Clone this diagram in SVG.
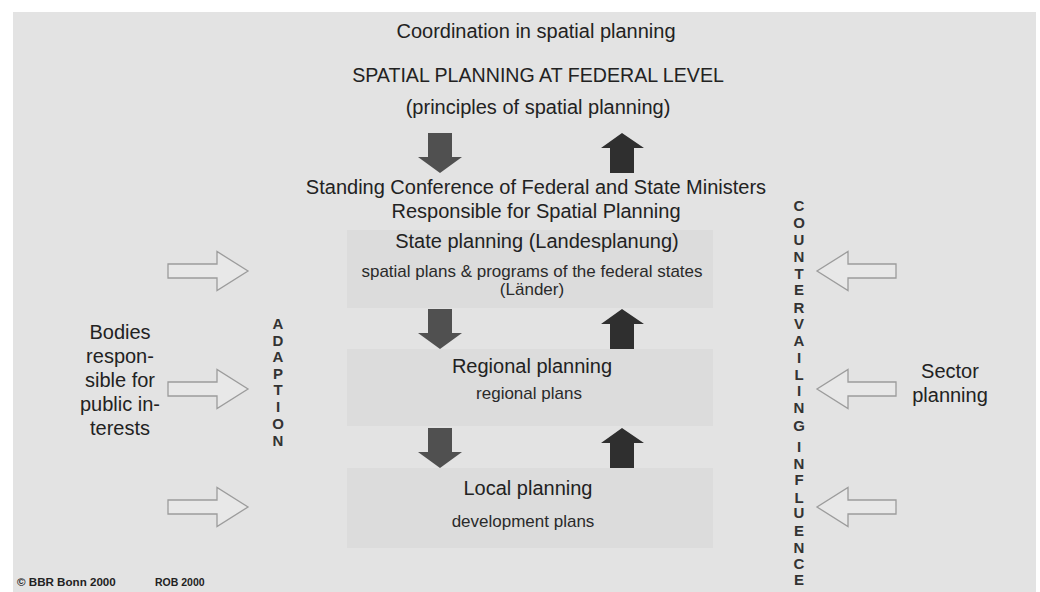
<svg xmlns="http://www.w3.org/2000/svg" width="1040" height="592" viewBox="0 0 1040 592">
<defs>
<style>
text{font-family:"Liberation Sans",Arial,sans-serif;fill:#222;text-anchor:middle}
.t20{font-size:20px}
.t17{font-size:17px;fill:#2a2a2a}
.v{font-size:15px;font-weight:bold;fill:#333}
.panel{fill:#dcdcdc}
.down{fill:#505050}
.up{fill:#2f2f2f}
.hollow{fill:#e8e8e8;stroke:#9c9c9c;stroke-width:1.3}
.foot{font-weight:bold;text-anchor:start;fill:#222}
</style>
<polygon id="downA" points="428,0 452,0 452,24 462,24 440,40 418,24 428,24"/>
<polygon id="upA" points="622,0 644,15 634,15 634,40 610,40 610,15 601,15"/>
<polygon id="rightA" points="168,-7 217,-7 217,-19.5 248,0 217,19.5 217,7 168,7"/>
<polygon id="leftA" points="896,-7 848,-7 848,-19.5 817,0 848,19.5 848,7 896,7"/>
</defs>
<rect x="0" y="0" width="1040" height="592" fill="#ffffff"/>
<rect x="13" y="12" width="1023" height="580" fill="#e3e3e3"/>

<g id="federal">
<text class="t20" x="536" y="38">Coordination in spatial planning</text>
<text class="t20" x="538" y="82" style="font-size:19.6px">SPATIAL PLANNING AT FEDERAL LEVEL</text>
<text class="t20" x="538" y="114">(principles of spatial planning)</text>
</g>
<g id="conference">
<text class="t20" x="536" y="194">Standing Conference of Federal and State Ministers</text>
<text class="t20" x="536" y="218">Responsible for Spatial Planning</text>
</g>
<g id="state">
<rect class="panel" x="347" y="230" width="366" height="78"/>
<text class="t20" x="537" y="248">State planning (Landesplanung)</text>
<text class="t17" x="532" y="277">spatial plans &amp; programs of the federal states</text>
<text class="t17" x="532" y="295">(Länder)</text>
</g>
<g id="regional">
<rect class="panel" x="347" y="349" width="366" height="77"/>
<text class="t20" x="532" y="373">Regional planning</text>
<text class="t17" x="529" y="399">regional plans</text>
</g>
<g id="local">
<rect class="panel" x="347" y="468" width="366" height="80"/>
<text class="t20" x="528" y="495">Local planning</text>
<text class="t17" x="523" y="527">development plans</text>
</g>
<g id="bodies">
<text class="t20" x="120" y="339">Bodies</text>
<text class="t20" x="120" y="363">respon-</text>
<text class="t20" x="120" y="387">sible for</text>
<text class="t20" x="120" y="411">public in-</text>
<text class="t20" x="120" y="435">terests</text>
</g>
<g id="sector">
<text class="t20" x="950" y="378">Sector</text>
<text class="t20" x="950" y="402">planning</text>
</g>
<g id="adaption">
<text class="v" x="278" y="329">A</text>
<text class="v" x="278" y="345.5">D</text>
<text class="v" x="278" y="362">A</text>
<text class="v" x="278" y="378.5">P</text>
<text class="v" x="278" y="395">T</text>
<text class="v" x="278" y="411.5">I</text>
<text class="v" x="278" y="428.5">O</text>
<text class="v" x="278" y="446">N</text>
</g>
<g id="countervailing">
<text class="v" x="799" y="211">C</text>
<text class="v" x="799" y="228">O</text>
<text class="v" x="799" y="245">U</text>
<text class="v" x="799" y="262">N</text>
<text class="v" x="799" y="279">T</text>
<text class="v" x="799" y="295">E</text>
<text class="v" x="799" y="312.5">R</text>
<text class="v" x="799" y="329">V</text>
<text class="v" x="799" y="345.5">A</text>
<text class="v" x="799" y="362.5">I</text>
<text class="v" x="799" y="380">L</text>
<text class="v" x="799" y="396">I</text>
<text class="v" x="799" y="412.5">N</text>
<text class="v" x="799" y="430.5">G</text>
<text class="v" x="799" y="451.5">I</text>
<text class="v" x="799" y="468.5">N</text>
<text class="v" x="799" y="484.5">F</text>
<text class="v" x="799" y="502.5">L</text>
<text class="v" x="799" y="518">U</text>
<text class="v" x="799" y="535.5">E</text>
<text class="v" x="799" y="552.5">N</text>
<text class="v" x="799" y="568.5">C</text>
<text class="v" x="799" y="585">E</text>
</g>
<g id="footer">
<text class="foot" x="17" y="585.5" style="font-size:11.6px">© BBR Bonn 2000</text>
<text class="foot" x="155" y="585.5" style="font-size:10.5px">ROB 2000</text>
</g>
<g id="connectors">
<use href="#downA" class="down" transform="translate(0,133)"/>
<use href="#downA" class="down" transform="translate(0,309)"/>
<use href="#downA" class="down" transform="translate(0,428)"/>
<use href="#upA" class="up" transform="translate(0,133)"/>
<use href="#upA" class="up" transform="translate(0,309)"/>
<use href="#upA" class="up" transform="translate(0,428)"/>
<use href="#rightA" class="hollow" transform="translate(0,271)"/>
<use href="#rightA" class="hollow" transform="translate(0,389)"/>
<use href="#rightA" class="hollow" transform="translate(0,507)"/>
<use href="#leftA" class="hollow" transform="translate(0,271)"/>
<use href="#leftA" class="hollow" transform="translate(0,389)"/>
<use href="#leftA" class="hollow" transform="translate(0,507)"/>
</g>
</svg>
